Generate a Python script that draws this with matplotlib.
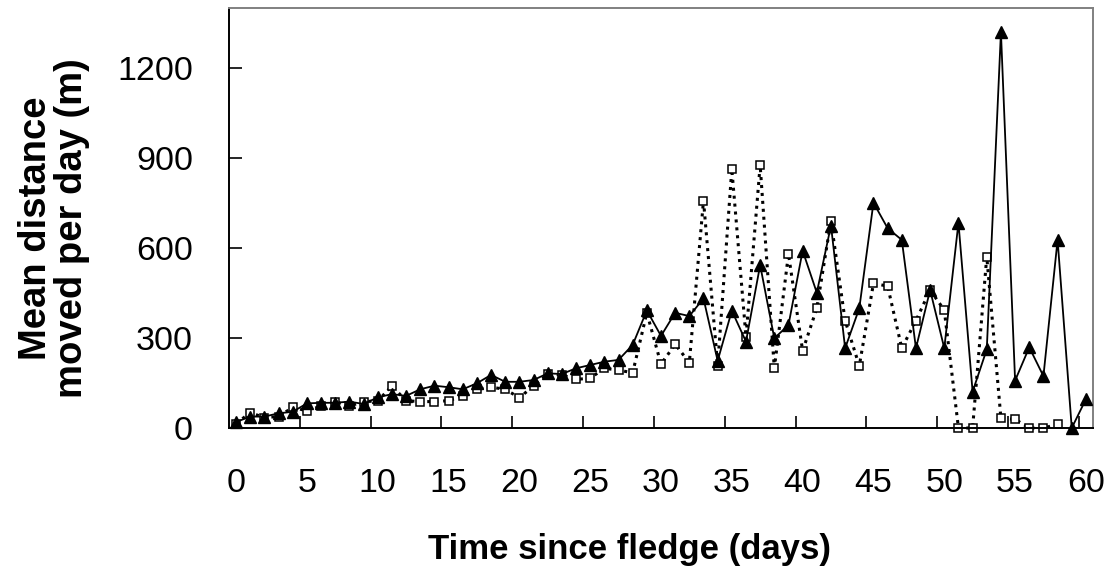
import numpy as np
import matplotlib
matplotlib.use("Agg")
import matplotlib.pyplot as plt
from matplotlib.ticker import FixedLocator

plt.rcParams['font.family'] = ['Liberation Sans', 'DejaVu Sans']

# mean distance moved per day (m), one value per day since fledging
days_a = list(range(0, 61))
dist_a = [20, 38, 38, 49, 54, 82, 84, 84, 88, 80,
          102, 113, 107, 129, 141, 136, 129, 149, 177, 154,
          154, 160, 182, 180, 199, 210, 221, 227, 277, 392,
          307, 384, 373, 432, 224, 391, 288, 543, 299, 343,
          591, 451, 675, 266, 399, 751, 666, 627, 266, 460,
          266, 684, 121, 262, 1320, 158, 269, 173, 627, 0,
          96]

days_b = list(range(0, 59))
dist_b = [15, 51, 35, 38, 69, 57, 73, 88, 73, 88,
          90, 140, 91, 88, 88, 91, 107, 129, 136, 129,
          101, 140, 180, 177, 162, 166, 199, 193, 184, 384,
          213, 279, 218, 758, 208, 863, 304, 876, 199, 580,
          257, 399, 691, 358, 207, 482, 473, 266, 358, 460,
          393, 0, 0, 571, 32, 29, 0, 0, 12]

x_labels = list(range(0, 61, 5))
y_ticks = [0, 300, 600, 900, 1200]

fig = plt.figure(figsize=(11.18, 5.75), dpi=100)
ax = fig.add_axes([229 / 1118, 1 - 428 / 575, 864 / 1118, 420 / 575])

# dotted series with open squares
ax.plot(days_b, dist_b, color='black', linestyle=(0, (1, 1.6)), linewidth=2.2,
        marker='s', markersize=6, markerfacecolor='white', markeredgecolor='black',
        markeredgewidth=1.1, clip_on=False, zorder=2)
# solid series with filled triangles
ax.plot(days_a, dist_a, color='black', linestyle='-', linewidth=1.3,
        marker='^', markersize=8.5, markerfacecolor='black', markeredgecolor='black',
        clip_on=False, zorder=3)

ax.set_xlim(-0.5, 60.5)
ax.set_ylim(0, 1400)

# labels sit under the days, tick marks on the boundaries between days
ax.set_xticks(x_labels)
ax.set_xticklabels([str(v) for v in x_labels])
ax.xaxis.set_minor_locator(FixedLocator([v - 0.5 for v in x_labels[1:]]))
ax.tick_params(axis='x', which='major', length=0, pad=29, labelsize=24.5)
ax.tick_params(axis='x', which='minor', direction='in', length=8.5, width=1.2)

ax.set_yticks(y_ticks)
ax.tick_params(axis='y', direction='in', length=9, width=1.2, pad=26, labelsize=24.5)

for side in ['left', 'bottom']:
    ax.spines[side].set_color('black')
    ax.spines[side].set_linewidth(1.4)
for side in ['top', 'right']:
    ax.spines[side].set_color('#808080')
    ax.spines[side].set_linewidth(1.4)

fig.text(629 / 1118, 1 - 550 / 575, 'Time since fledge (days)', ha='center', va='center',
         fontsize=25, fontweight='bold')
fig.text(54 / 1118, 1 - 228 / 575, 'Mean distance\nmoved per day (m)', ha='center', va='center',
         rotation=90, multialignment='center', fontsize=27.5, fontweight='bold', linespacing=1.0)

fig.savefig('out.png', dpi=100)
